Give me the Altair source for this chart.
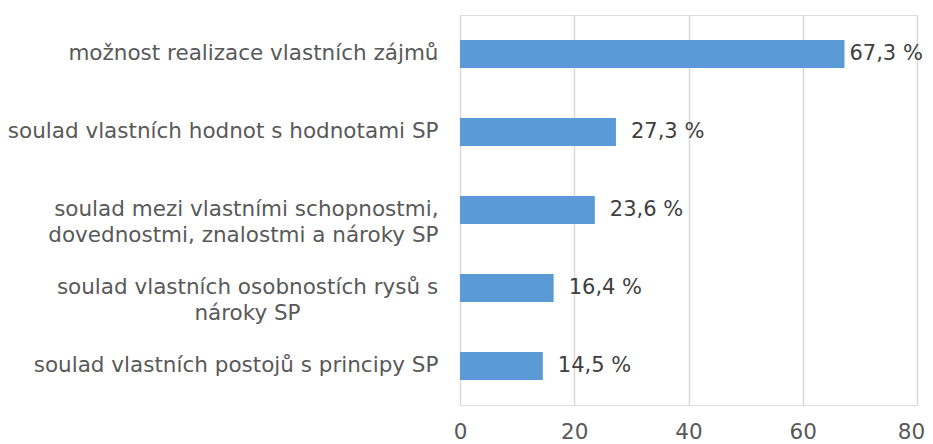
import altair as alt
import pandas as pd

categories = [
    "možnost realizace vlastních zájmů",
    "soulad vlastních hodnot s hodnotami SP",
    "soulad mezi vlastními schopnostmi,\ndovednostmi, znalostmi a nároky SP",
    "soulad vlastních osobnostích rysů s\nnároky SP",
    "soulad vlastních postojů s principy SP",
]
values = [67.3, 27.3, 23.6, 16.4, 14.5]
labels = ["67,3 %", "27,3 %", "23,6 %", "16,4 %", "14,5 %"]
x_ticks = [0, 20, 40, 60, 80]

df = pd.DataFrame({"cat": categories, "val": values, "lab": labels})

FONT = "DejaVu Sans"
FS = 21.5
FS_VAL = 21

# the two-line label whose lines are centred on each other (as in the original)
centred = "indexof(datum.value, 'rysů') >= 0"

y_enc = alt.Y(
    "cat:N",
    sort=categories,
    title=None,
    scale=alt.Scale(paddingInner=0.64, paddingOuter=0.32),
    axis=alt.Axis(
        labelExpr="split(datum.label, '\\n')",
        labelFont=FONT,
        labelFontSize=FS,
        labelColor="#595959",
        labelAlign=alt.ExprRef(expr=f"{centred} ? 'center' : 'right'"),
        labelPadding=alt.ExprRef(expr=f"{centred} ? 213 : 22"),
        labelLineHeight=26,
        labelLimit=0,
        ticks=False,
        domain=False,
        grid=False,
    ),
)

x_enc = alt.X(
    "val:Q",
    title=None,
    scale=alt.Scale(domain=[0, 80]),
    axis=alt.Axis(
        values=x_ticks,
        labelFont=FONT,
        labelFontSize=FS,
        labelColor="#595959",
        labelPadding=16,
        labelFlush=False,
        labelOffset=alt.ExprRef(expr="datum.value == 80 ? -6 : 0"),
        ticks=False,
        domain=False,
        grid=True,
        gridColor="#d9d9d9",
        gridWidth=1.5,
    ),
)

bars = alt.Chart(df).mark_bar(color="#5B9BD5").encode(x=x_enc, y=y_enc)

text_top = (
    alt.Chart(df)
    .transform_filter(alt.datum.val > 50)
    .mark_text(align="left", baseline="middle", dx=5, font=FONT, fontSize=FS_VAL, color="#404040")
    .encode(x="val:Q", y=alt.Y("cat:N", sort=categories), text="lab:N")
)
text_rest = (
    alt.Chart(df)
    .transform_filter(alt.datum.val <= 50)
    .mark_text(align="left", baseline="middle", dx=15, font=FONT, fontSize=FS_VAL, color="#404040")
    .encode(x="val:Q", y=alt.Y("cat:N", sort=categories), text="lab:N")
)

chart = (
    alt.layer(bars, text_top, text_rest)
    .properties(
        width=457,
        height=390,
        autosize=alt.AutoSizeParams(type="none"),
        padding={"left": 452, "top": 7, "right": 8, "bottom": 40},
    )
    .configure_view(strokeWidth=0)
    .configure(background="white")
)

chart.save("out.html", embed_options={"renderer": "svg", "actions": False})
